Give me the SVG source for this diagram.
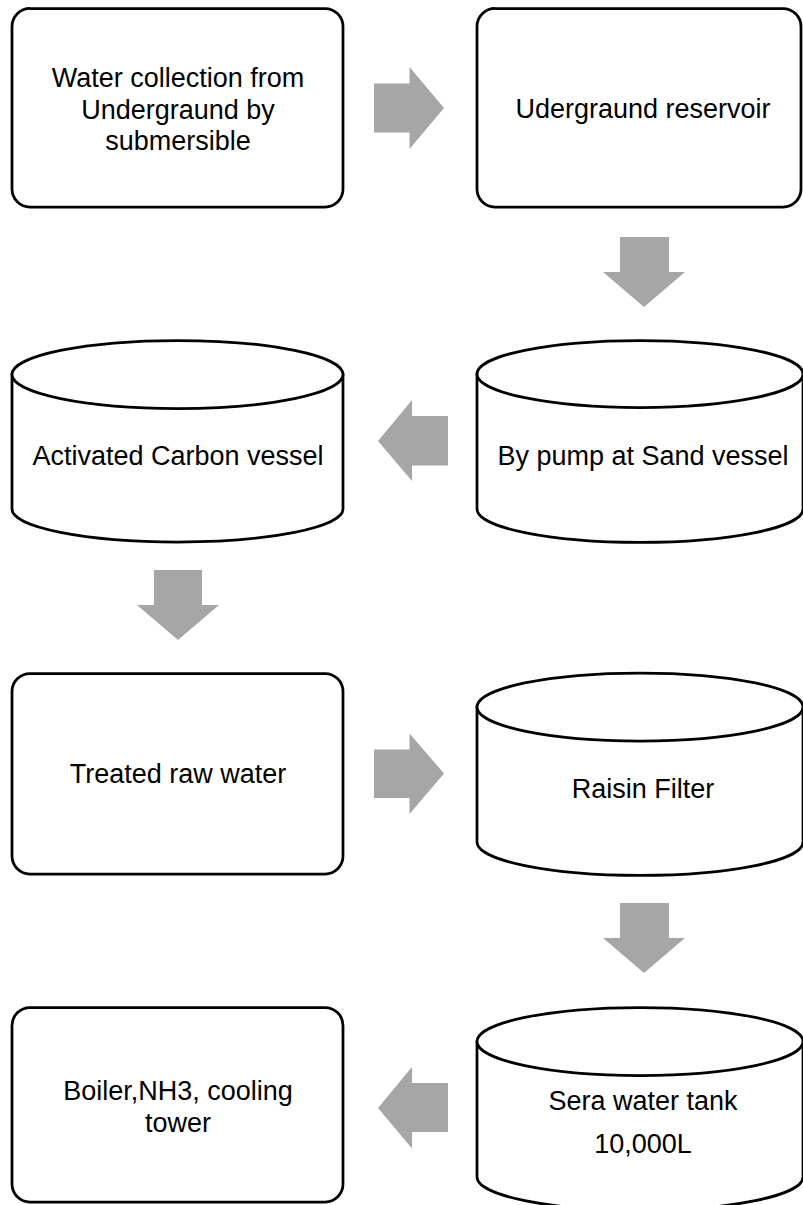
<svg xmlns="http://www.w3.org/2000/svg" width="803" height="1205" viewBox="0 0 803 1205">
<style>
.n{fill:#fff;stroke:#000;stroke-width:2.75}
.t{font-family:"Liberation Sans",Arial,sans-serif;font-size:27px;fill:#000;text-anchor:middle}
.a{fill:#A6A6A6;stroke:none}
</style>
<rect width="803" height="1205" fill="#fff"/>
<g id="n1">
<rect class="n" x="12" y="8.5" width="331" height="198.5" rx="18"/>
<text class="t" x="178" y="87">Water collection from</text>
<text class="t" x="178" y="118.5">Undergraund by</text>
<text class="t" x="178" y="150">submersible</text>
</g>
<g id="n2">
<rect class="n" x="477" y="8.5" width="324" height="198.5" rx="18"/>
<text class="t" x="643" y="118">Udergraund reservoir</text>
</g>
<g id="n3">
<path class="n" d="M477,374 L477,509 A163,33.5 0 0 0 803,509 L803,374 Z"/>
<ellipse class="n" cx="640" cy="374" rx="163" ry="33.5"/>
<text class="t" x="643" y="465">By pump at Sand vessel</text>
</g>
<g id="n4">
<path class="n" d="M12,374.5 L12,509 A165.5,33 0 0 0 343,509 L343,374.5 Z"/>
<ellipse class="n" cx="177.5" cy="374.5" rx="165.5" ry="34"/>
<text class="t" x="178" y="465">Activated Carbon vessel</text>
</g>
<g id="n5">
<rect class="n" x="12" y="673.5" width="331" height="200.5" rx="18"/>
<text class="t" x="178" y="783">Treated raw water</text>
</g>
<g id="n6">
<path class="n" d="M477,707 L477,842 A163,33.5 0 0 0 803,842 L803,707 Z"/>
<ellipse class="n" cx="640" cy="707" rx="163" ry="34"/>
<text class="t" x="643" y="798">Raisin Filter</text>
</g>
<g id="n7">
<path class="n" d="M477,1041.5 L477,1177 A163,33.5 0 0 0 803,1177 L803,1041.5 Z"/>
<ellipse class="n" cx="640" cy="1041.5" rx="163" ry="34"/>
<text class="t" x="643" y="1110">Sera water tank</text>
<text class="t" x="643" y="1153">10,000L</text>
</g>
<g id="n8">
<rect class="n" x="12" y="1007.5" width="331" height="194.5" rx="18"/>
<text class="t" x="178" y="1100">Boiler,NH3, cooling</text>
<text class="t" x="178" y="1132">tower</text>
</g>
<g id="connectors">
<polygon class="a" points="374,83.5 409.5,83.5 409.5,67 444,108 409.5,149 409.5,132.5 374,132.5"/>
<polygon class="a" points="620,237 669,237 669,272 685,272 644,307 603,272 620,272"/>
<polygon class="a" points="448,416 412,416 412,400 378,441 412,481 412,465.5 448,465.5"/>
<polygon class="a" points="154,570 202,570 202,605 219,605 178,640 137,605 154,605"/>
<polygon class="a" points="374,749.5 409.5,749.5 409.5,733.5 444,773.5 409.5,814 409.5,798 374,798"/>
<polygon class="a" points="620,903 669,903 669,938 685,938 644,973 603,938 620,938"/>
<polygon class="a" points="448,1083 412,1083 412,1067 378,1108 412,1148.5 412,1132 448,1132"/>
</g>
</svg>
